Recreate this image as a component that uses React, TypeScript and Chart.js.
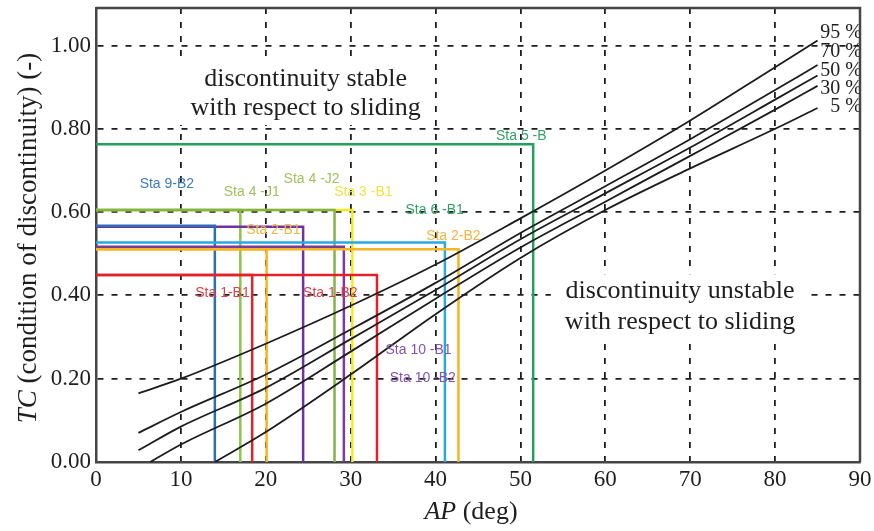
import React, { useEffect, useRef } from 'react';
import { Chart, registerables } from 'chart.js';

Chart.register(...registerables);

// ---------- axis ranges / ticks ----------
const AP_MIN = 0;
const AP_MAX = 90;
const AP_STEP = 10;
const TC_MIN = 0;
const TC_MAX = 1.09;
const TC_STEP = 0.2;
const TC_LAST_LABEL = 1.0;

// ---------- probability lines (AP deg, TC) ----------
const CURVE_NAMES = ['95 %', '70 %', '50 %', '30 %', '5 %'];
const CURVE_AP_95 = [5, 10, 20, 30, 40, 50, 60, 70, 80, 85];
const CURVE_TC_95 = [0.165, 0.2, 0.284, 0.375, 0.474, 0.585, 0.7, 0.82, 0.948, 1.012];
const CURVE_AP_70 = [5, 10, 20, 30, 40, 50, 60, 70, 80, 85];
const CURVE_TC_70 = [0.07, 0.12, 0.21, 0.318, 0.43, 0.55, 0.662, 0.775, 0.893, 0.953];
const CURVE_AP_50 = [5, 10, 20, 30, 40, 50, 60, 70, 80, 85];
const CURVE_TC_50 = [0.028, 0.085, 0.178, 0.295, 0.413, 0.535, 0.645, 0.755, 0.87, 0.928];
const CURVE_AP_30 = [6.4, 10, 20, 30, 40, 50, 60, 70, 80, 85];
const CURVE_TC_30 = [0, 0.042, 0.14, 0.265, 0.392, 0.515, 0.625, 0.735, 0.846, 0.903];
const CURVE_AP_5 = [14, 20, 30, 40, 50, 60, 70, 80, 85];
const CURVE_TC_5 = [0, 0.072, 0.21, 0.355, 0.49, 0.605, 0.705, 0.8, 0.85];

// ---------- stations (AP, TC) ----------
const STATIONS = [
  'Sta 5 -B', 'Sta 3 -B1', 'Sta 4 -J1', 'Sta 4 -J2', 'Sta 10 -B1', 'Sta 9-B2',
  'Sta 6 -B1', 'Sta 10 -B2', 'Sta 2-B1', 'Sta 2-B2', 'Sta 1-B1', 'Sta 1-B2',
];
const STATION_AP = [51.5, 30.2, 17.0, 28.1, 24.4, 14.0, 41.1, 29.2, 20.1, 42.7, 18.4, 33.1];
const STATION_TC = [0.763, 0.605, 0.605, 0.605, 0.565, 0.567, 0.527, 0.517, 0.511, 0.511, 0.449, 0.449];

// ---------- styles & annotation anchors (kept apart from the data) ----------
const STATION_LINE_COLORS = [
  '#22a05c', '#f3ec1c', '#8fc447', '#84b34c', '#7032a0', '#2c6fb6',
  '#2aa9e0', '#7a3b9c', '#f5b521', '#f5b521', '#e0232b', '#e0232b',
];
const STATION_TEXT_COLORS = [
  '#35a067', '#efe24a', '#9fc25e', '#9fc25e', '#8455b0', '#3f7bb8',
  '#35a067', '#8455b0', '#f1b545', '#f1b545', '#d9424a', '#d9424a',
];
const STATION_LABEL_AP = [50.1, 31.5, 18.35, 25.4, 38.0, 8.35, 39.9, 38.5, 20.9, 42.1, 14.9, 27.6];
const STATION_LABEL_TC = [0.783, 0.648, 0.648, 0.679, 0.268, 0.666, 0.605, 0.201, 0.557, 0.543, 0.405, 0.405];
const CURVE_LABEL_TC = [1.03, 0.985, 0.94, 0.897, 0.853];

const REGION_TEXTS = [
  ['discontinuity stable', 'with respect to sliding'],
  ['discontinuity unstable', 'with respect to sliding'],
];
const REGION_AP = [24.7, 68.8];
const REGION_TC = [[0.92, 0.85], [0.41, 0.336]];

const SERIF = '"Liberation Serif", "Times New Roman", serif';
const SANS = '"Liberation Sans", Arial, sans-serif';
const INK = '#1e1e1e';

function zip(xs: number[], ys: number[]) {
  return xs.map((x, i) => ({ x, y: ys[i] }));
}

function drawMixed(ctx: CanvasRenderingContext2D, parts: { text: string; font: string }[], cx: number, cy: number) {
  const widths = parts.map((p) => {
    ctx.font = p.font;
    return ctx.measureText(p.text).width;
  });
  const total = widths.reduce((a, b) => a + b, 0);
  let x = cx - total / 2;
  ctx.textAlign = 'left';
  ctx.textBaseline = 'middle';
  parts.forEach((p, i) => {
    ctx.font = p.font;
    ctx.fillText(p.text, x, cy);
    x += widths[i];
  });
}

const annotationPlugin = {
  id: 'tcAnnotations',
  beforeDatasetsDraw(chart: any) {
    const { ctx } = chart;
    const xs = chart.scales.x;
    const ys = chart.scales.y;
    ctx.save();
    ctx.font = `26px ${SERIF}`;
    ctx.textAlign = 'center';
    ctx.textBaseline = 'middle';
    REGION_TEXTS.forEach((lines, r) => {
      const cx = xs.getPixelForValue(REGION_AP[r]);
      const y1 = ys.getPixelForValue(REGION_TC[r][0]);
      const y2 = ys.getPixelForValue(REGION_TC[r][1]);
      const w = Math.max(...lines.map((t) => ctx.measureText(t).width));
      ctx.fillStyle = '#ffffff';
      ctx.fillRect(cx - w / 2 - 14, y1 - 17, w + 28, y2 - y1 + 34);
      ctx.fillStyle = INK;
      ctx.fillText(lines[0], cx, y1);
      ctx.fillText(lines[1], cx, y2);
    });
    ctx.restore();
  },
  afterDraw(chart: any) {
    const { ctx, chartArea: ca } = chart;
    const xs = chart.scales.x;
    const ys = chart.scales.y;
    ctx.save();

    // station labels
    ctx.font = `14px ${SANS}`;
    ctx.textAlign = 'center';
    ctx.textBaseline = 'middle';
    STATIONS.forEach((name, i) => {
      ctx.fillStyle = STATION_TEXT_COLORS[i];
      ctx.fillText(name, xs.getPixelForValue(STATION_LABEL_AP[i]), ys.getPixelForValue(STATION_LABEL_TC[i]));
    });

    // curve labels (clipped by the frame, as in the figure)
    ctx.save();
    ctx.beginPath();
    ctx.rect(0, 0, ca.right, chart.height);
    ctx.clip();
    ctx.fillStyle = INK;
    ctx.font = `20px ${SERIF}`;
    ctx.textAlign = 'right';
    ctx.textBaseline = 'middle';
    CURVE_NAMES.forEach((n, i) => {
      ctx.fillText(n, ca.right + 2, ys.getPixelForValue(CURVE_LABEL_TC[i]));
    });
    ctx.restore();

    // frame top / right
    ctx.strokeStyle = '#454545';
    ctx.lineWidth = 2.5;
    ctx.beginPath();
    ctx.moveTo(ca.left, ca.top);
    ctx.lineTo(ca.right, ca.top);
    ctx.lineTo(ca.right, ca.bottom);
    ctx.stroke();

    // axis titles
    ctx.fillStyle = INK;
    drawMixed(ctx, [
      { text: 'AP', font: `italic 26px ${SERIF}` },
      { text: ' (deg)', font: `26px ${SERIF}` },
    ], 471, 512);

    ctx.save();
    ctx.translate(29, 238);
    ctx.rotate(-Math.PI / 2);
    drawMixed(ctx, [
      { text: 'TC', font: `italic 27px ${SERIF}` },
      { text: ' (condition of discontinuity) (-)', font: `27px ${SERIF}` },
    ], 0, 0);
    ctx.restore();

    ctx.restore();
  },
};

export default function App() {
  const ref = useRef<HTMLCanvasElement | null>(null);

  useEffect(() => {
    if (!ref.current) return;
    const curves = [
      zip(CURVE_AP_95, CURVE_TC_95),
      zip(CURVE_AP_70, CURVE_TC_70),
      zip(CURVE_AP_50, CURVE_TC_50),
      zip(CURVE_AP_30, CURVE_TC_30),
      zip(CURVE_AP_5, CURVE_TC_5),
    ];
    const curveSets = curves.map((pts, i) => ({
      label: CURVE_NAMES[i],
      data: pts,
      borderColor: '#1c1c1c',
      borderWidth: 1.8,
      pointRadius: 0,
      fill: false,
      cubicInterpolationMode: 'monotone' as const,
      clip: false as any,
      order: 0,
    }));
    const stationSets = STATIONS.map((name, i) => ({
      label: name,
      data: [
        { x: AP_MIN, y: STATION_TC[i] },
        { x: STATION_AP[i], y: STATION_TC[i] },
        { x: STATION_AP[i], y: TC_MIN },
      ],
      borderColor: STATION_LINE_COLORS[i],
      borderWidth: 2.5,
      pointRadius: 0,
      fill: false,
      tension: 0,
      clip: false as any,
      order: 100 - i,
    }));

    const gridColor = (axisEnds: number[]) => (c: any) =>
      c.tick && axisEnds.some((v) => Math.abs(c.tick.value - v) < 1e-6) ? 'rgba(0,0,0,0)' : '#1e1e1e';

    const chart = new Chart(ref.current, {
      type: 'line',
      data: { datasets: [...curveSets, ...stationSets] as any },
      options: {
        animation: false,
        responsive: false,
        devicePixelRatio: 1,
        layout: { padding: { left: 0, right: 14, top: 8, bottom: 0 } },
        plugins: { legend: { display: false }, tooltip: { enabled: false } },
        scales: {
          x: {
            type: 'linear',
            min: AP_MIN,
            max: AP_MAX,
            ticks: {
              stepSize: AP_STEP,
              color: INK,
              font: { family: SERIF, size: 23 },
              padding: 4,
              maxRotation: 0,
            },
            grid: { color: gridColor([AP_MIN, AP_MAX]), lineWidth: 1.8, drawTicks: false },
            border: { display: true, color: '#454545', width: 2.5, dash: [6, 8] },
            afterFit: (s: any) => {
              s.height = 69;
              s.paddingLeft = 0;
              s.paddingRight = 0;
            },
          },
          y: {
            type: 'linear',
            min: TC_MIN,
            max: TC_MAX,
            ticks: {
              stepSize: TC_STEP,
              color: INK,
              font: { family: SERIF, size: 23 },
              padding: 5,
              callback: (v: any) => Number(v).toFixed(2),
            },
            grid: { color: gridColor([TC_MIN]), lineWidth: 1.8, drawTicks: false },
            border: { display: true, color: '#454545', width: 2.5, dash: [6, 8] },
            afterBuildTicks: (s: any) => {
              s.ticks = s.ticks.filter((t: any) => t.value <= TC_LAST_LABEL + 1e-6);
            },
            afterFit: (s: any) => {
              s.width = 96;
              s.paddingTop = 0;
              s.paddingBottom = 0;
            },
          },
        },
      } as any,
      plugins: [annotationPlugin],
    });
    return () => chart.destroy();
  }, []);

  return (
    <div style={{ position: 'fixed', left: 0, top: 0, width: 874, height: 531, background: '#fff' }}>
      <canvas ref={ref} width={874} height={531} style={{ display: 'block' }} />
    </div>
  );
}
